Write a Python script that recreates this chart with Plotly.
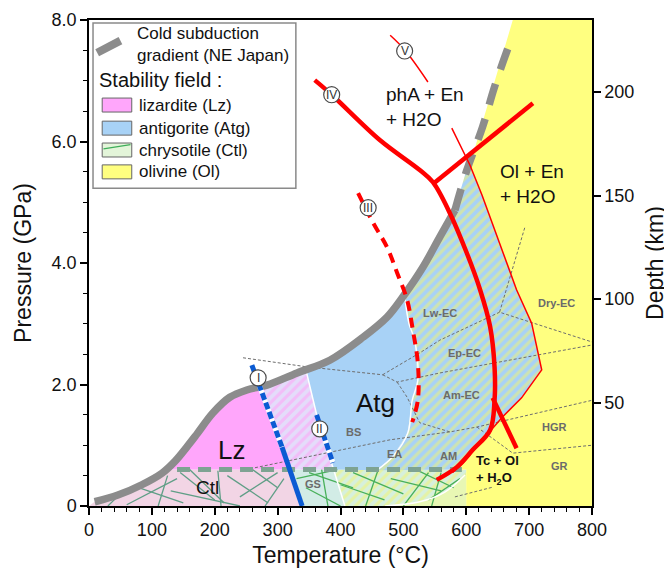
import plotly.graph_objects as go

FONT = "Arial, Liberation Sans, sans-serif"

# ---------------- axes ----------------
x_ticks = [0, 100, 200, 300, 400, 500, 600, 700, 800]
y_ticks = [0, 2, 4, 6, 8]
y_ticktext = ["0", "2.0", "4.0", "6.0", "8.0"]
depth_ticks = [50, 100, 150, 200]
depth_range = [0, 234.8]

# ---------------- cold subduction gradient (T degC, P GPa) ----------------
grad_T = [9, 46, 84, 116, 137, 157, 172, 197, 224, 251, 283, 331, 383, 436, 474, 499, 531, 558, 582]
grad_P = [0.07, 0.18, 0.35, 0.54, 0.74, 0.99, 1.19, 1.53, 1.79, 1.91, 1.99, 2.19, 2.40, 2.78, 3.11, 3.44, 3.93, 4.43, 4.87]
grad_dash_T = [582, 601, 626, 645, 672]
grad_dash_P = [4.87, 5.53, 6.24, 6.90, 7.70]

# ---------------- stability fields ----------------
ctl_T = [0, 9, 46, 84, 116, 122, 319, 339, 0]
ctl_P = [0, 0.07, 0.18, 0.35, 0.54, 0.6, 0.6, 0, 0]
gs_T = [319, 389, 407, 339]
gs_P = [0.6, 0.6, 0, 0]
band_T = [389, 600, 600, 407]
band_P = [0.6, 0.6, 0, 0]
band_low_T = [471, 526, 566, 598, 600, 600]
band_low_P = [0, 0.07, 0.23, 0.51, 0.51, 0]
lz_T = [122, 137, 157, 172, 197, 224, 251, 272, 307, 319]
lz_P = [0.6, 0.74, 0.99, 1.19, 1.53, 1.79, 1.91, 1.98, 0.97, 0.6]
lzatg_T = [272, 283, 331, 345, 364, 389, 319, 307]
lzatg_P = [1.98, 2.01, 2.21, 2.24, 1.42, 0.6, 0.6, 0.97]
atg_T = [345, 383, 436, 474, 502, 509, 518, 523, 514, 507, 483, 458, 389, 364]
atg_P = [2.24, 2.42, 2.80, 3.13, 3.46, 3.0, 2.73, 2.07, 1.74, 1.20, 0.81, 0.59, 0.6, 1.42]
atgol_T = [502, 531, 558, 582, 601, 606, 625, 649, 680, 704, 720, 688, 658, 626, 595, 585,
           458, 483, 507, 514, 523, 518, 509]
atgol_P = [3.46, 3.95, 4.45, 4.89, 5.55, 5.62, 5.12, 4.43, 3.56, 3.01, 2.24, 1.78, 1.47, 1.09, 0.71, 0.6,
           0.59, 0.81, 1.20, 1.74, 2.07, 2.73, 3.0]
ol_T = [674, 800, 800, 600, 600, 585, 595, 626, 658, 688, 720, 704, 680, 649, 625, 606]
ol_P = [8, 8, 0, 0, 0.6, 0.6, 0.71, 1.09, 1.47, 1.78, 2.24, 3.01, 3.56, 4.43, 5.12, 5.62]

# white boundaries
wline_T = [345, 364, 389, 407]
wline_P = [2.24, 1.42, 0.6, 0]
wcurve_T = [502, 509, 518, 523, 514, 507, 483, 458]
wcurve_P = [3.46, 3.0, 2.73, 2.07, 1.74, 1.20, 0.81, 0.59]
wlow_T = [471, 526, 566, 598]
wlow_P = [0, 0.07, 0.23, 0.51]

# chrysotile lines (segments: T0, P0, T1, P1)
ctl_segs = [
    (30, 0.0, 45, 0.15), (60, 0.02, 140, 0.45), (80, 0.30, 150, 0.05), (110, 0.0, 125, 0.5),
    (145, 0.55, 200, 0.10), (130, 0.25, 240, 0.0), (160, 0.6, 215, 0.05), (205, 0.58, 210, 0.0),
    (220, 0.50, 285, 0.05), (240, 0.15, 300, 0.55), (260, 0.60, 300, 0.30), (280, 0.0, 310, 0.45),
]
ctl_segs2 = [
    (330, 0.45, 395, 0.6), (350, 0.55, 420, 0.30), (345, 0.30, 400, 0.0), (370, 0.6, 380, 0.0),
    (400, 0.35, 470, 0.10), (420, 0.55, 500, 0.20), (440, 0.0, 460, 0.6), (480, 0.45, 560, 0.25),
    (500, 0.0, 540, 0.55), (520, 0.6, 580, 0.30), (540, 0.10, 590, 0.45), (560, 0.55, 545, 0.0),
]

# metamorphic facies boundaries
facies = [
    ([245, 347, 467], [2.44, 2.29, 2.16]),
    ([467, 526, 558, 653], [2.16, 2.52, 2.73, 3.19]),
    ([693, 653, 800], [4.58, 3.19, 2.70]),
    ([467, 490, 558, 800], [2.16, 2.04, 2.19, 2.65]),
    ([490, 506, 526, 574, 617, 800], [2.04, 1.79, 1.37, 1.22, 1.30, 1.74]),
    ([617, 674, 800], [1.30, 0.87, 1.00]),
    ([264, 383, 479, 574], [0.63, 0.89, 1.09, 1.22]),
    ([582, 642], [0.15, 0.31]),
]
facies_labels = ["BS", "EA", "AM", "GS", "Lw-EC", "Ep-EC", "Am-EC", "Dry-EC", "HGR", "GR"]
facies_T = [421, 486, 571, 356, 558, 598, 593, 744, 741, 749]
facies_P = [1.22, 0.86, 0.82, 0.36, 3.18, 2.52, 1.83, 3.34, 1.30, 0.66]

# reactions
r4_T = [359, 386, 463, 526, 547, 574, 601, 622, 638, 645, 645, 638, 610, 585, 553]
r4_P = [7.01, 6.77, 6.02, 5.53, 5.33, 4.82, 4.16, 3.56, 2.95, 2.29, 1.74, 1.25, 0.92, 0.64, 0.43]
r4b_T = [547, 706]
r4b_P = [5.30, 6.63]
r4c_T = [642, 680]
r4c_P = [1.78, 0.95]
r3_T = [428, 452, 474, 490, 506, 515, 523, 523, 514]
r3_P = [5.15, 4.66, 4.26, 3.84, 3.39, 2.90, 2.35, 1.74, 1.38]
r5_T = [479, 502, 539]
r5_P = [7.75, 7.51, 6.98]
rthin_T = [577, 606, 625, 649, 680, 704, 720, 688, 658, 626, 595, 578]
rthin_P = [6.22, 5.61, 5.12, 4.43, 3.56, 3.01, 2.24, 1.78, 1.47, 1.09, 0.71, 0.55]
r1d_T = [259, 307]
r1d_P = [2.32, 0.97]
r1s_T = [307, 339]
r1s_P = [0.97, 0.0]
r2_T = [362, 388]
r2_P = [1.50, 0.71]
ctl_limit_T = [140, 593]
ctl_limit_P = [0.6, 0.6]

circle_labels = ["I", "II", "III", "IV", "V"]
circle_T = [269, 367, 444, 386, 502]
circle_P = [2.11, 1.27, 4.91, 6.77, 7.49]

legend_labels = ["lizardite (Lz)", "antigorite (Atg)", "chrysotile (Ctl)", "olivine (Ol)"]
legend_colors = ["#ffa6fb", "#a8d2f6", "#e3f5d9", "#ffff80"]
legend_P = [6.60, 6.22, 5.86, 5.50]

fig = go.Figure()


def poly(T, P, color, pattern=None):
    kw = dict(x=T, y=P, mode="lines", fill="toself", fillcolor=color,
              line=dict(width=0), hoverinfo="skip", showlegend=False)
    if pattern:
        kw["fillpattern"] = pattern
    fig.add_trace(go.Scatter(**kw))


def line(T, P, color, width, dash=None, shape="linear"):
    d = dict(color=color, width=width, shape=shape)
    if dash:
        d["dash"] = dash
    fig.add_trace(go.Scatter(x=T, y=P, mode="lines", line=d, hoverinfo="skip", showlegend=False))


# fills
poly(ctl_T, ctl_P, "#f2d5e5")
poly(gs_T, gs_P, "#d2ece6")
poly(band_T, band_P, "#d6f0dc", dict(shape="/", bgcolor="#d6f0dc", fgcolor="#f4f46c", size=7, solidity=0.45))
poly(band_low_T, band_low_P, "#e8f7b4")
poly(ol_T, ol_P, "#ffff80")
poly(lz_T, lz_P, "#ffa6fb")
poly(lzatg_T, lzatg_P, "#e4dcfa", dict(shape="/", bgcolor="#e4dcfa", fgcolor="#ff9ef6", size=7, solidity=0.45))
poly(atg_T, atg_P, "#a8d2f6")
poly(atgol_T, atgol_P, "#a8d2f6", dict(shape="/", bgcolor="#a8d2f6", fgcolor="#f4f46c", size=7, solidity=0.45))

# chrysotile lines
for segs, col in ((ctl_segs, "#5f9e86"), (ctl_segs2, "#48b05a")):
    xs, ys = [], []
    for t0, p0, t1, p1 in segs:
        xs += [t0, t1, None]
        ys += [p0, p1, None]
    line(xs, ys, col, 1.3)

# facies lines
for fT, fP in facies:
    line(fT, fP, "#6e6e6e", 1, dash="3px,2px")

# white boundaries
line(wline_T, wline_P, "white", 1.5)
line(wcurve_T, wcurve_P, "white", 1.5, shape="spline")
line(wlow_T, wlow_P, "white", 1.5, shape="spline")

# Ctl upper limit
line(ctl_limit_T, ctl_limit_P, "#7ea392", 5, dash="13px,8px")

# gradient
line(grad_T, grad_P, "#8c8c8c", 7.5, shape="spline")
line(grad_dash_T, grad_dash_P, "#8c8c8c", 7.5, dash="22px,15px", shape="spline")

# reactions
line(rthin_T, rthin_P, "#ff0000", 1.5)
line(r5_T, r5_P, "#ff0000", 1.5, shape="spline")
line(r4_T, r4_P, "#ff0000", 4.5, shape="spline")
line(r4b_T, r4b_P, "#ff0000", 4.5)
line(r4c_T, r4c_P, "#ff0000", 4.5)
line(r3_T, r3_P, "#ff0000", 4, dash="10px,7px", shape="spline")
line(r1d_T, r1d_P, "white", 5)
line(r1d_T, r1d_P, "#0b5bd3", 5, dash="7px,3px")
line(r1s_T, r1s_P, "#0b5bd3", 5)
line(r2_T, r2_P, "white", 5)
line(r2_T, r2_P, "#0b5bd3", 5, dash="7px,3px")

shapes = []
annotations = []

# circles
rT, rP = 12.7, 0.132
for lab, t, p in zip(circle_labels, circle_T, circle_P):
    shapes.append(dict(type="circle", xref="x", yref="y", x0=t - rT, x1=t + rT, y0=p - rP, y1=p + rP,
                       fillcolor="white", line=dict(color="#4a4a4a", width=1.2), layer="above"))
    annotations.append(dict(x=t, y=p, xref="x", yref="y", text=lab, showarrow=False,
                            font=dict(family=FONT, size=12, color="#333")))

# facies labels
for lab, t, p in zip(facies_labels, facies_T, facies_P):
    annotations.append(dict(x=t, y=p, xref="x", yref="y", text="<b>%s</b>" % lab, showarrow=False,
                            font=dict(family=FONT, size=11, color="#6b6b6b")))

# big labels
big = [("Lz", 227, 0.92, 26), ("Atg", 455, 1.70, 26), ("Ctl", 188, 0.31, 19)]
for txt, t, p, s in big:
    annotations.append(dict(x=t, y=p, xref="x", yref="y", text=txt, showarrow=False,
                            font=dict(family=FONT, size=s, color="#111")))
annotations.append(dict(x=469, y=6.57, xref="x", yref="y", text="phA + En<br>+ H2O", showarrow=False,
                        xanchor="left", align="left", font=dict(family=FONT, size=19, color="#111")))
annotations.append(dict(x=651, y=5.30, xref="x", yref="y", text="Ol + En<br>+ H2O", showarrow=False,
                        xanchor="left", align="left", font=dict(family=FONT, size=19, color="#111")))
annotations.append(dict(x=613, y=0.59, xref="x", yref="y", text="<b>Tc + Ol<br>+ H<sub>2</sub>O</b>",
                        showarrow=False, xanchor="left", align="left",
                        font=dict(family=FONT, size=13, color="#111")))

# legend box
shapes.append(dict(type="rect", xref="x", yref="y", x0=6.4, x1=329, y0=5.23, y1=7.95,
                   fillcolor="white", line=dict(color="#8a8a8a", width=1.5), layer="above"))
shapes.append(dict(type="line", xref="x", yref="y", x0=13, x1=50, y0=7.46, y1=7.66,
                   line=dict(color="#8c8c8c", width=8), layer="above"))
annotations.append(dict(x=73, y=7.60, xref="x", yref="y", text="Cold subduction<br>gradient (NE Japan)",
                        showarrow=False, xanchor="left", align="left",
                        font=dict(family=FONT, size=17, color="#111")))
annotations.append(dict(x=12, y=7.01, xref="x", yref="y", text="Stability field :", showarrow=False,
                        xanchor="left", font=dict(family=FONT, size=20, color="#111")))
for lab, col, p in zip(legend_labels, legend_colors, legend_P):
    shapes.append(dict(type="rect", xref="x", yref="y", x0=21, x1=68, y0=p - 0.115, y1=p + 0.115,
                       fillcolor=col, line=dict(color="#666", width=1), layer="above"))
    annotations.append(dict(x=77, y=p, xref="x", yref="y", text=lab, showarrow=False, xanchor="left",
                            font=dict(family=FONT, size=17, color="#111")))
shapes.append(dict(type="line", xref="x", yref="y", x0=23, x1=66, y0=5.88, y1=5.95,
                   line=dict(color="#3fae5a", width=1.3), layer="above"))

# depth axis helper trace (invisible)
fig.add_trace(go.Scatter(x=[0], y=[0], yaxis="y2", mode="markers", marker=dict(opacity=0),
                         hoverinfo="skip", showlegend=False))

axis_common = dict(showgrid=False, zeroline=False, linecolor="black", linewidth=1.5,
                   ticks="outside", ticklen=7, tickwidth=1.5, tickcolor="black", automargin=False,
                   tickfont=dict(family=FONT, size=18, color="#111"))
title_font = dict(family=FONT, size=23, color="#111")

fig.update_layout(
    width=664, height=561,
    margin=dict(l=81, r=80, t=12, b=63, autoexpand=False),
    plot_bgcolor="white", paper_bgcolor="white",
    showlegend=False,
    shapes=shapes, annotations=annotations,
    xaxis=dict(range=[0, 800], tickvals=x_ticks, mirror=True, showline=True,
               minor=dict(dtick=20, ticklen=4, tickwidth=1.2, ticks="outside", tickcolor="black"),
               title=dict(text="Temperature (°C)", font=title_font, standoff=8),
               **axis_common),
    yaxis=dict(range=[0, 8], tickvals=y_ticks, ticktext=y_ticktext, showline=True,
               minor=dict(dtick=0.5, ticklen=4, tickwidth=1.2, ticks="outside", tickcolor="black"),
               title=dict(text="Pressure (GPa)", font=title_font, standoff=14),
               **axis_common),
    yaxis2=dict(range=depth_range, tickvals=depth_ticks, overlaying="y", side="right", showline=True,
                title=dict(text="Depth (km)", font=title_font, standoff=14),
                **axis_common),
)

fig.write_html("out.html")
